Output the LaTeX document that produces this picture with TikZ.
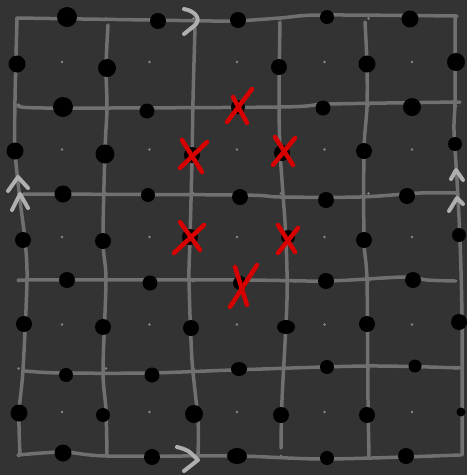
\documentclass[tikz,border=0pt]{standalone}
\definecolor{bg}{RGB}{51,51,51}
\definecolor{gridc}{RGB}{112,112,112}
\definecolor{pdot}{RGB}{135,135,135}
\definecolor{chev}{RGB}{175,175,175}
\definecolor{xred}{RGB}{214,0,0}
\begin{document}
\begin{tikzpicture}[x=1pt,y=-1pt,
  gridline/.style={draw=gridc,line width=3.5pt,line cap=round,line join=round},
  chevron/.style={draw=chev,line width=4pt,line cap=round,line join=round},
  xmark/.style={draw=xred,line width=4.5pt,line cap=round},
  bdot/.style={fill=black},
  sdot/.style={fill=pdot}]
\useasboundingbox (0,0) rectangle (467,475);
\fill[bg] (0,0) rectangle (467,475);
% small lattice dots (plaquette centres and vertices)
\foreach \i in {0,...,4}{\foreach \j in {0,...,4}{
  \fill[sdot] ({62+87.5*\i},{62+87.5*\j}) circle[radius=1.3pt];}}
\foreach \i in {0,...,5}{\foreach \j in {0,...,5}{
  \fill[sdot] ({18.5+87.5*\i},{18.5+87.5*\j}) circle[radius=1.3pt];}}
% horizontal lines
\draw[gridline] plot[smooth,tension=0.5] coordinates {(17,18) (150,20) (230,21) (280,18) (320,15) (457,16)};
\draw[gridline] plot[smooth,tension=0.5] coordinates {(19,105) (45,108) (280,107) (330,104) (460,102)};
\draw[gridline] plot[smooth,tension=0.5] coordinates {(23,194) (240,195) (280,197) (360,197) (420,193) (457,193)};
\draw[gridline] plot[smooth,tension=0.5] coordinates {(18,280) (240,280) (327,281) (404,277) (427,280) (455,281)};
\draw[gridline] plot[smooth,tension=0.5] coordinates {(25,371) (60,373) (150,373) (233,370) (367,366) (460,368)};
\draw[gridline] plot[smooth,tension=0.5] coordinates {(18,455) (63,452) (107,456) (237,456) (327,459) (460,455)};
% vertical lines
\draw[gridline] plot[smooth,tension=0.5] coordinates {(17,18) (15,100) (15,150) (20,200) (25,240) (27,280) (23,370) (19,413) (20,455)};
\draw[gridline] plot[smooth,tension=0.5] coordinates {(108,25) (106,67) (107,108) (105,150) (103,240) (106,280) (103,370) (106,410) (107,455)};
\draw[gridline] plot[smooth,tension=0.5] coordinates {(195,28) (193,100) (192,160) (190,240) (189,280) (192,360) (198,420) (198,456)};
\draw[gridline] plot[smooth,tension=0.5] coordinates {(280,22) (279,100) (280,150) (283,194) (286,240) (287,300) (282,400) (281,448)};
\draw[gridline] plot[smooth,tension=0.5] coordinates {(365,22) (367,64) (367,107) (364,150) (364,240) (367,280) (368,400) (369,455)};
\draw[gridline] plot[smooth,tension=0.5] coordinates {(455,16) (455,100) (454,130) (457,180) (460,240) (462,320) (462,455)};
% black dots on edges
\foreach \x/\y/\r in {
  67/17/10, 158/21/8, 238/20/8, 327/17/7, 410/19/8.5,
  17/64/8.5, 107/68/9, 279/67/8, 367/64/8.5, 456/62/9,
  63/107/10, 147/111/7.5, 238/107/7, 323/108/7.5, 412/107/9,
  15/151/8.5, 105/154/9.5, 192/155/8, 282/153/8, 364/151/8, 455/144/7,
  63/194/8.5, 148/195/7, 240/197/8, 326/200/8, 407/196/8,
  23/240/8, 103/241/8, 190/237/8, 288/237/7, 364/240/8, 459/235/7,
  67/280/8, 150/283/7.5, 240/283/7, 326/281/8, 413/280/8,
  24/324/8, 103/327/8, 191/328/8, 367/324/8, 459/322/8,
  66/375/7, 152/375/7.5, 327/367/7, 415/366/6.5,
  19/413/8.5, 103/415/7, 194/414/9, 281/415/8, 367/415/8, 461/412/4.5,
  63/453/8.5, 152/457/8, 327/458/7, 406/456/8}
  \fill[bdot] (\x,\y) circle[radius=\r pt];
\fill[bdot] (286,327) ellipse[x radius=9pt,y radius=7pt];
\fill[bdot] (239,369) ellipse[x radius=8pt,y radius=7pt];
\fill[bdot] (237,456) ellipse[x radius=10pt,y radius=8pt];
% red crosses
\foreach \a/\b/\c/\d/\e/\f/\g/\h in {
  227/122/252/89/233/97/247/123,
  180/168/207/142/182/140/202/172,
  273/165/295/138/275/137/293/165,
  174/253/204/225/180/222/200/250,
  278/253/298/228/278/225/295/252,
  230/307/257/265/235/267/247/305}
  {\draw[xmark] (\a,\b) -- (\c,\d); \draw[xmark] (\e,\f) -- (\g,\h);}
% chevrons
\draw[chevron] (184,9) .. controls (196,11) and (202,20) .. (194,26) -- (184,34);
\draw[chevron] (177,447) .. controls (188,450) .. (198,460) -- (184,471);
\draw[chevron] (8,191) -- (18,177) -- (28,188);
\draw[chevron] (12,210) -- (20,194) -- (28,208);
\draw[chevron] (451,179) -- (456,170) -- (463,180);
\draw[chevron] (449,211) -- (457,198) -- (463,204);
\end{tikzpicture}
\end{document}
